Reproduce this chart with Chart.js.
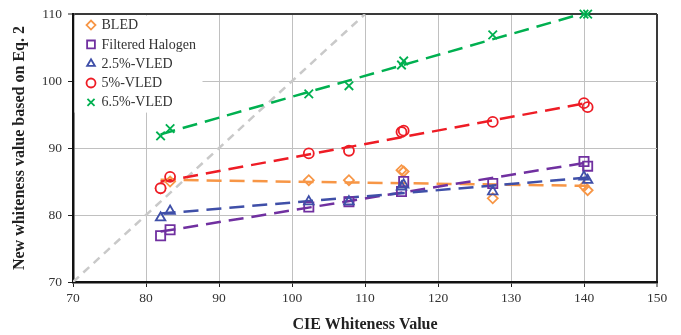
<!DOCTYPE html>
<html>
<head>
<meta charset="utf-8">
<script src="https://cdn.jsdelivr.net/npm/chart.js@4/dist/chart.umd.min.js"></script>
<style>
  html, body { margin: 0; padding: 0; background: #ffffff; }
  #wrap { width: 681px; height: 335px; position: relative; }
</style>
</head>
<body>
<div id="wrap"><canvas id="c" width="681" height="335"></canvas></div>
<script>
// CIE whiteness of the nine samples (x axis)
const cieWhiteness = [82.0, 83.3, 102.3, 107.8, 115.0, 115.3, 127.5, 140.0, 140.5];

// New whiteness value (Eq. 2) under each light source
const bled           = [84.0, 85.0, 85.2, 85.2, 86.7, 86.5, 82.5, 84.3, 83.7];
const filteredHalo   = [76.9, 77.8, 81.2, 82.0, 83.5, 85.0, 84.7, 88.0, 87.3];
const vled25         = [79.6, 80.6, 82.0, 82.0, 84.2, 84.5, 83.5, 85.7, 85.2];
const vled5          = [84.0, 85.7, 89.2, 89.6, 92.4, 92.6, 93.9, 96.7, 96.1];
const vled65         = [91.8, 92.9, 98.1, 99.3, 102.4, 103.0, 106.9, 110.0, 110.0];

const seriesNames  = ['BLED', 'Filtered Halogen', '2.5%-VLED', '5%-VLED', '6.5%-VLED'];
const seriesValues = [bled, filteredHalo, vled25, vled5, vled65];

// Axis ticks and the y = x reference line
const xTickRange = [70, 150];
const yTickRange = [70, 110];
const tickStep = 10;
const identityLine = [70, 110];

const colors  = ['#F79646', '#7030A0', '#3F4FA8', '#EE1C25', '#00B050'];
const styles  = ['rectRot', 'rect', 'triangle', 'circle', 'crossRot'];
const radii   = [5, 6.5, 5.5, 5, 6];

const FONT = '"Liberation Serif", "Times New Roman", serif';

function points(ys) {
  return cieWhiteness.map((x, i) => ({ x: x, y: ys[i] }));
}

// Least-squares linear trend across the data
function trend(ys) {
  const n = ys.length;
  const mx = cieWhiteness.reduce((a, b) => a + b, 0) / n;
  const my = ys.reduce((a, b) => a + b, 0) / n;
  let sxy = 0, sxx = 0;
  for (let i = 0; i < n; i++) {
    sxy += (cieWhiteness[i] - mx) * (ys[i] - my);
    sxx += (cieWhiteness[i] - mx) * (cieWhiteness[i] - mx);
  }
  const slope = sxy / sxx;
  const x0 = Math.min(...cieWhiteness), x1 = Math.max(...cieWhiteness);
  return [{ x: x0, y: my + slope * (x0 - mx) }, { x: x1, y: my + slope * (x1 - mx) }];
}

const datasets = [];
// y = x line
datasets.push({
  label: 'y=x',
  data: identityLine.map(v => ({ x: v, y: v })),
  showLine: true, pointRadius: 0,
  borderColor: '#C9C9C9', borderWidth: 2.5, borderDash: [8, 6],
  legendHidden: true
});
// trend lines
seriesValues.forEach((ys, i) => {
  datasets.push({
    label: seriesNames[i] + ' trend',
    data: trend(ys),
    showLine: true, pointRadius: 0,
    borderColor: colors[i], borderWidth: 2.5, borderDash: [15, 8],
    legendHidden: true
  });
});
// markers (the first 5%-VLED circle is white-filled and sits over the BLED diamond)
seriesValues.forEach((ys, i) => {
  const fills = ys.map((v, k) => (i === 3 && k === 0) ? '#ffffff' : 'rgba(255,255,255,0)');
  datasets.push({
    label: seriesNames[i],
    data: points(ys),
    showLine: false,
    pointStyle: styles[i],
    pointRadius: radii[i],
    pointBorderColor: colors[i],
    pointBackgroundColor: fills,
    pointBorderWidth: 1.8,
    borderColor: colors[i],
    backgroundColor: 'rgba(255,255,255,0)',
    clip: 10
  });
});
// paint in list order: later datasets end up on top
datasets.forEach((ds, k) => { ds.order = datasets.length - k; });

// Legend drawn inside the plot, top-left, on a white box
const insideLegend = {
  id: 'insideLegend',
  afterDraw(chart) {
    const ctx = chart.ctx;
    const area = chart.chartArea;
    const boxX = area.left + 1.5, boxY = area.top + 1.5;
    const boxW = 128, boxH = 97;
    ctx.save();
    ctx.fillStyle = '#ffffff';
    ctx.fillRect(boxX, boxY, boxW, boxH);
    const rowH = 19.3;
    chart.data.datasets.forEach(ds => {
      if (ds.legendHidden) return;
      const idx = seriesNames.indexOf(ds.label);
      const cy = area.top + 11 + idx * rowH;
      const mx = area.left + 18;
      ctx.strokeStyle = ds.pointBorderColor;
      ctx.fillStyle = 'rgba(255,255,255,0)';
      ctx.lineWidth = 1.8;
      Chart.helpers.drawPoint(ctx, {
        pointStyle: ds.pointStyle,
        radius: ds.pointStyle === 'rect' ? 5.5 : (ds.pointStyle === 'crossRot' ? 5 : 4.5),
        borderWidth: 1.8,
        rotation: 0
      }, mx, cy);
      ctx.fillStyle = '#333333';
      ctx.font = '14px ' + FONT;
      ctx.textBaseline = 'middle';
      ctx.textAlign = 'left';
      ctx.fillText(ds.label, area.left + 28.5, cy + 0.5);
    });
    ctx.restore();
  }
};

const edgeColor = '#3a3a3a';
const gridColor = '#C0C0C0';

new Chart(document.getElementById('c'), {
  type: 'scatter',
  data: { datasets: datasets },
  plugins: [insideLegend],
  options: {
    responsive: false,
    animation: false,
    devicePixelRatio: 1,
    layout: { padding: { left: 0, top: 14, right: 24, bottom: 0 } },
    plugins: {
      legend: { display: false },
      tooltip: { enabled: false }
    },
    scales: {
      x: {
        type: 'linear',
        min: xTickRange[0], max: xTickRange[1],
        ticks: {
          stepSize: tickStep,
          font: { family: FONT, size: 13.5 },
          color: '#333333',
          padding: 3
        },
        grid: {
          color: c => c.tick.value === xTickRange[1] ? edgeColor : (c.tick.value === xTickRange[0] ? 'rgba(0,0,0,0)' : gridColor),
          lineWidth: c => c.tick.value === xTickRange[1] ? 2 : 1,
          tickColor: '#222222',
          tickLength: 5,
          tickWidth: 1
        },
        border: { color: '#111111', width: 2.5 },
        title: {
          display: true,
          text: 'CIE Whiteness Value',
          font: { family: FONT, size: 16, weight: 'bold' },
          color: '#222222',
          padding: { top: 0, bottom: 1 }
        },
        afterFit: s => { s.height = 53; }
      },
      y: {
        type: 'linear',
        min: yTickRange[0], max: yTickRange[1],
        ticks: {
          stepSize: tickStep,
          font: { family: FONT, size: 13.5 },
          color: '#333333',
          padding: 6
        },
        grid: {
          color: c => c.tick.value === yTickRange[1] ? edgeColor : (c.tick.value === yTickRange[0] ? 'rgba(0,0,0,0)' : gridColor),
          lineWidth: c => c.tick.value === yTickRange[1] ? 2 : 1,
          tickColor: '#222222',
          tickLength: 5,
          tickWidth: 1
        },
        border: { color: '#111111', width: 2.5 },
        title: {
          display: true,
          text: 'New whiteness value based on Eq. 2',
          font: { family: FONT, size: 16, weight: 'bold' },
          color: '#222222',
          padding: { top: 10, bottom: 0 }
        },
        afterFit: s => { s.width = 73; }
      }
    }
  }
});
</script>
</body>
</html>
